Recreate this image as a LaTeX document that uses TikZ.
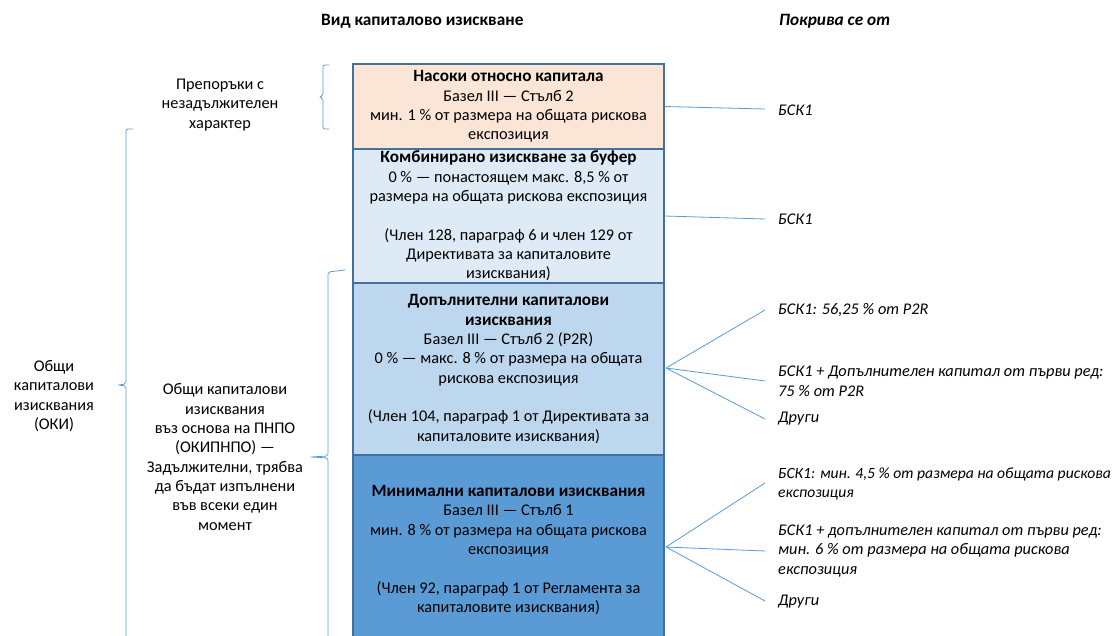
\documentclass[tikz,border=0pt]{standalone}
\usepackage{fontspec}
\setmainfont{Carlito}
\definecolor{bordc}{HTML}{41719C}
\definecolor{linec}{HTML}{5B9BD5}
\definecolor{peach}{HTML}{FBE5D6}
\definecolor{pale}{HTML}{DEEBF7}
\definecolor{mid}{HTML}{BDD7EE}
\definecolor{deep}{HTML}{5B9BD5}
\newcommand{\bt}[1]{{\fontsize{17.2}{19.3}\selectfont\bfseries #1}}
\begin{document}
\begin{tikzpicture}[x=1pt,y=-1pt,
  every node/.style={font=\fontsize{16.3}{19.3}\selectfont, inner sep=0pt},
  box/.style={draw=bordc, line width=2pt, minimum width=311pt, align=center},
  lbl/.style={anchor=west, align=left, font=\fontsize{16.3}{19.8}\selectfont\itshape},
  side/.style={align=center},
  conn/.style={draw=linec, line width=0.8pt},
  brace/.style={draw=linec, line width=0.8pt, rounded corners=2pt}
  ]
\useasboundingbox (0,0) rectangle (1116,635);
\fill[white] (0,0) rectangle (1116,635);
\begin{scope}
\clip (0,0) rectangle (1116,635);
% headers
\node[anchor=west, font=\fontsize{17.3}{19}\selectfont\bfseries] (h1) at (321,21) {Вид капиталово изискване};
\node[anchor=west, font=\fontsize{17.3}{19}\selectfont\bfseries\itshape] (h2) at (779,21) {Покрива се от};
% boxes
\node[box, fill=peach, minimum height=85pt] (b1) at (508.5,106.5) {\bt{Насоки относно капитала}\\Базел III — Стълб 2\\мин. 1 \% от размера на общата рискова\\експозиция};
\node[box, fill=pale, minimum height=134pt] (b2) at (508.5,216) {\bt{Комбинирано изискване за буфер}\\0 \% — понастоящем макс. 8,5 \% от\\размера на общата рискова експозиция\\[19.3pt](Член 128, параграф 6 и член 129 от\\Директивата за капиталовите\\изисквания)};
\node[box, fill=mid, minimum height=172pt] (b3) at (508.5,369) {\bt{Допълнителни капиталови}\\\bt{изисквания}\\Базел III — Стълб 2 (P2R)\\0 \% — макс. 8 \% от размера на общата\\рискова експозиция\\[19.3pt](Член 104, параграф 1 от Директивата за\\капиталовите изисквания)};
\node[box, fill=deep, minimum height=190pt] (b4) at (508.5,550) {\bt{Минимални капиталови изисквания}\\Базел III — Стълб 1\\мин. 8 \% от размера на общата рискова\\експозиция\\[19.3pt](Член 92, параграф 1 от Регламента за\\капиталовите изисквания)};
% left texts
\node[side] (t1) at (220,105) {Препоръки с\\незадължителен\\характер};
\node[side] (t2) at (54,396) {Общи\\капиталови\\изисквания\\(ОКИ)};
\node[side] (t3) at (225,457) {Общи капиталови\\изисквания\\въз основа на ПНПО\\(ОКИПНПО) —\\Задължителни, трябва\\да бъдат изпълнени\\във всеки един\\момент};
% braces
\draw[brace] (329,65) -- (323,65) -- (323,96) -- (319,97) -- (323,98) -- (323,129) -- (329,129);
\draw[brace] (133,129) -- (126,129) -- (126,384) -- (118,385) -- (126,386) -- (126,641) -- (133,641);
\draw[brace] (345,270) -- (328,272) -- (328,456) -- (311,457) -- (328,458) -- (328,644) -- (345,644);
% right labels
\node[lbl] (r1) at (778,110) {БСК1};
\node[lbl] (r2) at (778,219) {БСК1};
\node[lbl] (r3) at (778,310) {БСК1: 56,25 \% от P2R};
\node[lbl] (r4) at (778,381.5) {БСК1 + Допълнителен капитал от първи ред:\\75 \% от P2R};
\node[lbl] (r5) at (778,419) {Други};
\node[lbl, font=\fontsize{15.6}{19.8}\selectfont\itshape] (r6) at (778,484) {БСК1: мин. 4,5 \% от размера на общата рискова\\експозиция};
\node[lbl] (r7) at (778,551) {БСК1 + допълнителен капитал от първи ред:\\мин. 6 \% от размера на общата рискова\\експозиция};
\node[lbl] (r8) at (778,602) {Други};
% line ends
\coordinate (e1) at (765,109);
\coordinate (e2) at (765,219);
\coordinate (e3) at (765,310);
\coordinate (e4) at (765,381);
\coordinate (e5) at (765,419);
\coordinate (e6) at (765,483);
\coordinate (e7) at (765,551);
\coordinate (e8) at (765,601);
\coordinate (o3) at (666,368);
\coordinate (o4) at (666,547);
\draw[conn] (b1.east) -- (e1);
\draw[conn] (b2.east) -- (e2);
\draw[conn] (o3) -- (e3);
\draw[conn] (o3) -- (e4);
\draw[conn] (o3) -- (e5);
\draw[conn] (o4) -- (e6);
\draw[conn] (o4) -- (e7);
\draw[conn] (o4) -- (e8);
\end{scope}
\end{tikzpicture}
\end{document}
